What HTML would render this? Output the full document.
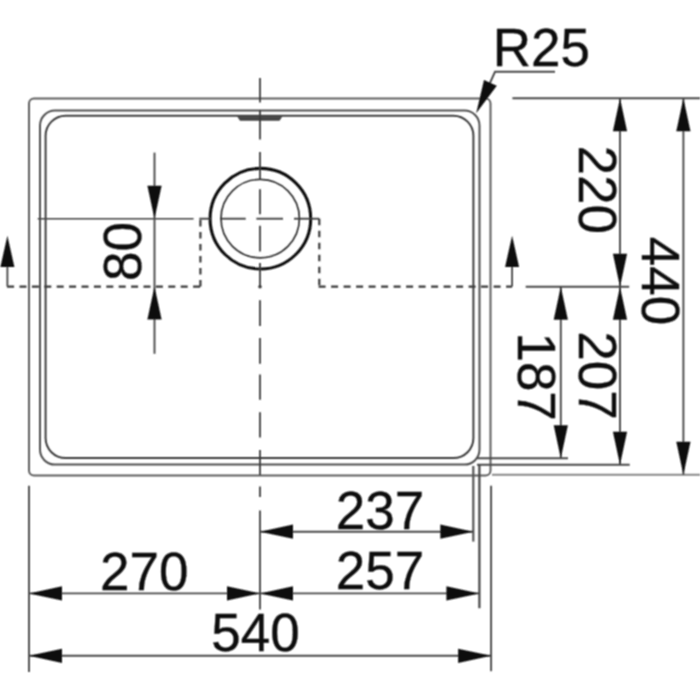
<!DOCTYPE html>
<html><head><meta charset="utf-8"><style>
html,body{margin:0;padding:0;background:#fff;}
body{width:700px;height:700px;overflow:hidden;}
svg{display:block;}
text{font-family:"Liberation Sans", sans-serif;font-size:53px;fill:#111;stroke:#111;stroke-width:0.35px;}
</style></head><body>
<svg width="700" height="700" viewBox="0 0 700 700">
<defs><filter id="b" filterUnits="userSpaceOnUse" x="0" y="0" width="700" height="700"><feConvolveMatrix order="3" kernelMatrix="1 2 1 2 4 2 1 2 1" divisor="16" edgeMode="none"/></filter></defs>
<rect width="700" height="700" fill="#fff"/>
<g filter="url(#b)">
<rect x="29" y="98.4" width="461.5" height="377.2" rx="5" fill="none" stroke="#5e5e5e" stroke-width="2.0"/>
<rect x="40" y="110.6" width="439.5" height="354" rx="15" fill="none" stroke="#505050" stroke-width="2.0"/>
<rect x="45.6" y="115.8" width="427.8" height="342.3" rx="20" fill="none" stroke="#3c3c3c" stroke-width="2.0"/>
<polygon points="237,116.3 282.5,116.3 279.5,120.8 240,120.8" fill="#444"/>
<circle cx="260.4" cy="218.7" r="50.3" fill="none" stroke="#111" stroke-width="3.1"/>
<circle cx="260.2" cy="218.6" r="39.2" fill="none" stroke="#333" stroke-width="1.7"/>
<line x1="260" y1="77.9" x2="260" y2="102.4" stroke="#3a3a3a" stroke-width="1.8"/>
<line x1="260" y1="110" x2="260" y2="139.6" stroke="#3a3a3a" stroke-width="1.8"/>
<line x1="260" y1="152.1" x2="260" y2="180" stroke="#3a3a3a" stroke-width="1.8"/>
<line x1="260" y1="189.3" x2="260" y2="214.3" stroke="#3a3a3a" stroke-width="1.8"/>
<line x1="260" y1="225.7" x2="260" y2="251.4" stroke="#3a3a3a" stroke-width="1.8"/>
<line x1="260" y1="262.9" x2="260" y2="286.6" stroke="#3a3a3a" stroke-width="1.8"/>
<line x1="260" y1="300.3" x2="260" y2="326" stroke="#3a3a3a" stroke-width="1.8"/>
<line x1="260" y1="338" x2="260" y2="363.7" stroke="#3a3a3a" stroke-width="1.8"/>
<line x1="260" y1="374.6" x2="260" y2="399.7" stroke="#3a3a3a" stroke-width="1.8"/>
<line x1="260" y1="412.3" x2="260" y2="437.4" stroke="#3a3a3a" stroke-width="1.8"/>
<line x1="260" y1="450" x2="260" y2="475" stroke="#3a3a3a" stroke-width="1.8"/>
<line x1="260" y1="486.6" x2="260" y2="496.9" stroke="#3a3a3a" stroke-width="1.8"/>
<circle cx="260" cy="286.8" r="1.8" fill="#3a3a3a"/>
<line x1="220" y1="218.7" x2="245.7" y2="218.7" stroke="#3a3a3a" stroke-width="1.8"/>
<line x1="256.4" y1="218.7" x2="283" y2="218.7" stroke="#3a3a3a" stroke-width="1.8"/>
<line x1="294" y1="218.7" x2="319.3" y2="218.7" stroke="#3a3a3a" stroke-width="1.8"/>
<line x1="199.3" y1="218.7" x2="210.4" y2="218.7" stroke="#3a3a3a" stroke-width="1.8"/>
<line x1="37.7" y1="218.7" x2="193.6" y2="218.7" stroke="#444" stroke-width="1.6"/>
<path d="M7.1 286.6 H200.6" fill="none" stroke="#3a3a3a" stroke-width="2.2" stroke-dasharray="7 5.4" />
<path d="M200.4 286.6 V218.7" fill="none" stroke="#3a3a3a" stroke-width="2.2" stroke-dasharray="6.5 5.5" />
<path d="M319.3 218.7 V286.6" fill="none" stroke="#3a3a3a" stroke-width="2.2" stroke-dasharray="6.5 5.5" />
<path d="M318.6 286.6 H512.1" fill="none" stroke="#3a3a3a" stroke-width="2.2" stroke-dasharray="7 5.5" />
<line x1="7.4" y1="266.9" x2="7.4" y2="286.6" stroke="#444" stroke-width="1.8"/>
<polygon points="7.40,235.70 14.40,266.90 0.40,266.90" fill="#111"/>
<line x1="512.1" y1="266.9" x2="512.1" y2="286.6" stroke="#444" stroke-width="1.8"/>
<polygon points="512.10,235.70 519.10,266.90 505.10,266.90" fill="#111"/>
<line x1="154.5" y1="152.6" x2="154.5" y2="353.8" stroke="#4a4a4a" stroke-width="1.9"/>
<polygon points="154.50,218.70 147.40,185.70 161.60,185.70" fill="#111"/>
<polygon points="154.50,286.60 161.60,319.60 147.40,319.60" fill="#111"/>
<line x1="512.4" y1="98.3" x2="700" y2="98.3" stroke="#4a4a4a" stroke-width="1.9"/>
<line x1="525.7" y1="286.8" x2="629.2" y2="286.8" stroke="#4a4a4a" stroke-width="1.9"/>
<line x1="477" y1="458.2" x2="568" y2="458.2" stroke="#4a4a4a" stroke-width="1.9"/>
<line x1="477" y1="464.7" x2="629.7" y2="464.7" stroke="#4a4a4a" stroke-width="1.9"/>
<line x1="492" y1="474.8" x2="700" y2="474.8" stroke="#888" stroke-width="2.0"/>
<line x1="29" y1="485.7" x2="29" y2="672" stroke="#4a4a4a" stroke-width="1.9"/>
<line x1="260" y1="510.6" x2="260" y2="609.6" stroke="#4a4a4a" stroke-width="1.9"/>
<line x1="473.3" y1="466" x2="473.3" y2="541.6" stroke="#555" stroke-width="2.2"/>
<line x1="479.4" y1="464.5" x2="479.4" y2="608.2" stroke="#444" stroke-width="2.2"/>
<line x1="491.1" y1="485.7" x2="491.1" y2="671.2" stroke="#4a4a4a" stroke-width="1.9"/>
<line x1="620" y1="98.3" x2="620" y2="286.8" stroke="#4a4a4a" stroke-width="1.9"/>
<polygon points="620.00,98.30 627.10,131.30 612.90,131.30" fill="#111"/>
<polygon points="620.00,286.80 612.90,253.80 627.10,253.80" fill="#111"/>
<line x1="683.4" y1="98.3" x2="683.4" y2="474.8" stroke="#4a4a4a" stroke-width="1.9"/>
<polygon points="683.40,98.30 690.50,131.30 676.30,131.30" fill="#111"/>
<polygon points="683.40,474.80 676.30,441.80 690.50,441.80" fill="#111"/>
<line x1="620" y1="286.8" x2="620" y2="464.7" stroke="#4a4a4a" stroke-width="1.9"/>
<polygon points="620.00,286.80 627.10,319.80 612.90,319.80" fill="#111"/>
<polygon points="620.00,464.70 612.90,431.70 627.10,431.70" fill="#111"/>
<line x1="560.8" y1="286.8" x2="560.8" y2="458.2" stroke="#4a4a4a" stroke-width="1.9"/>
<polygon points="560.80,286.80 567.90,319.80 553.70,319.80" fill="#111"/>
<polygon points="560.80,458.20 553.70,425.20 567.90,425.20" fill="#111"/>
<line x1="260" y1="531.7" x2="473.3" y2="531.7" stroke="#4a4a4a" stroke-width="1.9"/>
<polygon points="260.00,531.70 293.00,524.60 293.00,538.80" fill="#111"/>
<polygon points="473.30,531.70 440.30,538.80 440.30,524.60" fill="#111"/>
<line x1="29" y1="593.4" x2="260" y2="593.4" stroke="#4a4a4a" stroke-width="1.9"/>
<polygon points="29.00,593.40 62.00,586.30 62.00,600.50" fill="#111"/>
<polygon points="260.00,593.40 227.00,600.50 227.00,586.30" fill="#111"/>
<line x1="260" y1="593.4" x2="479.4" y2="593.4" stroke="#4a4a4a" stroke-width="1.9"/>
<polygon points="260.00,593.40 293.00,586.30 293.00,600.50" fill="#111"/>
<polygon points="479.40,593.40 446.40,600.50 446.40,586.30" fill="#111"/>
<line x1="29" y1="655.8" x2="491.1" y2="655.8" stroke="#4a4a4a" stroke-width="1.9"/>
<polygon points="29.00,655.80 62.00,648.70 62.00,662.90" fill="#111"/>
<polygon points="491.10,655.80 458.10,662.90 458.10,648.70" fill="#111"/>
<polyline points="555,71.8 495,71.8 489.5,84" fill="none" stroke="#4a4a4a" stroke-width="1.9"/>
<polygon points="476.2,113.2 484,80 496.8,85.8" fill="#111"/>
<text x="492.8" y="66.0">R25</text>
<text x="100.0" y="589.5">270</text>
<text x="335.8" y="528.9">237</text>
<text x="335.8" y="589.2">257</text>
<text x="211.2" y="651.0">540</text>
<text transform="translate(578.5,145.5) rotate(90)">220</text>
<text transform="translate(641.5,236.7) rotate(90)">440</text>
<text transform="translate(578.8,331.3) rotate(90)">207</text>
<text transform="translate(518.0,332.4) rotate(90)">187</text>
<text transform="translate(141.0,281.1) rotate(-90)">80</text>
</g>
</svg>
</body></html>
